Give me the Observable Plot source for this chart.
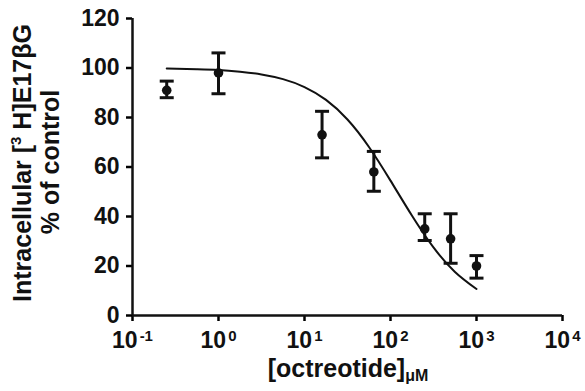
<!DOCTYPE html>
<html>
<head>
<meta charset="utf-8">
<script src="https://cdn.jsdelivr.net/npm/d3@7"></script>
<script src="https://cdn.jsdelivr.net/npm/@observablehq/plot@0.6"></script>
<style>
  html, body { margin: 0; padding: 0; background: #fff; }
  #chart svg { font-family: "Liberation Sans", Arial, sans-serif; }
</style>
</head>
<body>
<div id="chart"></div>
<script>
// Measured points (concentration in µM, % of control)
const conc   = [0.25, 1, 16, 64, 250, 500, 1000];
const mean   = [91, 98, 73, 58, 35, 31, 20];
const errLo  = [88, 89.6, 63.7, 50.2, 30.3, 21.1, 15.1];
const errHi  = [94.7, 106.1, 82.5, 66.3, 41.1, 41.1, 24.2];

// Fitted curve
const curveX = [0.25, 0.56, 1, 1.78, 3.16, 5.62, 10, 17.8, 31.6, 56.2, 100, 178, 316, 562, 1000];
const curveY = [99.8, 99.5, 99.2, 98.5, 97.4, 95.5, 92.3, 87.1, 79.2, 68.1, 54.5, 40.3, 27.5, 17.6, 10.7];

// Axis ticks
const xTicks = [0.1, 1, 10, 100, 1000, 10000];
const yTicks = [0, 20, 40, 60, 80, 100, 120];

const points = conc.map((c, i) => ({x: c, y: mean[i], lo: errLo[i], hi: errHi[i]}));
const curve = curveX.map((c, i) => ({x: c, y: curveY[i]}));

const cap = {draw(ctx) { ctx.moveTo(-7, 0); ctx.lineTo(7, 0); }};

const plot = Plot.plot({
  width: 585,
  height: 391,
  marginLeft: 132,
  marginRight: 23,
  marginTop: 18,
  marginBottom: 76,
  x: {type: "log", domain: [0.1, 10000]},
  y: {domain: [0, 120]},
  marks: [
    Plot.axisY({ticks: yTicks, tickSize: 6, tickPadding: 7, strokeWidth: 2.5, fontSize: 23, fontWeight: "bold", fill: "#111", label: null}),
    Plot.axisX({ticks: xTicks, tickSize: 6, tickPadding: 10, strokeWidth: 2.5, fontSize: 23, fontWeight: "bold", fill: "#111", label: null,
      tickFormat: d => String(Math.round(Math.log10(d)))}),
    Plot.ruleX([0.1], {y1: 0, y2: 120, stroke: "#111", strokeWidth: 2.5}),
    Plot.ruleY([0], {stroke: "#111", strokeWidth: 2.5}),
    Plot.line(curve, {x: "x", y: "y", curve: "natural", stroke: "#111", strokeWidth: 2}),
    Plot.ruleX(points, {x: "x", y1: "lo", y2: "hi", stroke: "#111", strokeWidth: 3}),
    Plot.dot(points, {x: "x", y: "lo", symbol: cap, stroke: "#111", strokeWidth: 3, r: 5}),
    Plot.dot(points, {x: "x", y: "hi", symbol: cap, stroke: "#111", strokeWidth: 3, r: 5}),
    Plot.dot(points, {x: "x", y: "y", r: 4.8, fill: "#111", stroke: "none"})
  ]
});

document.getElementById("chart").appendChild(plot);

const svg = d3.select(plot);
// Superscript exponents on x tick labels
svg.selectAll('g[aria-label="x-axis tick label"] text').each(function() {
  const t = d3.select(this);
  const exp = t.text().replace("\u2212", "-");
  t.text("10");
  t.append("tspan").attr("dy", "-0.45em").attr("font-size", 15).attr("dx", 2).text(exp);
});

// Y axis title
const yt = svg.append("text")
  .attr("transform", "translate(31,163) rotate(-90)")
  .attr("text-anchor", "middle")
  .attr("font-size", 25).attr("font-weight", "bold").attr("fill", "#111");
yt.append("tspan").text("Intracellular [");
yt.append("tspan").attr("font-size", 15).attr("dy", -10).text("3");
yt.append("tspan").attr("dy", 10).text(" H]E17\u03B2G");
svg.append("text")
  .attr("transform", "translate(59,162) rotate(-90)")
  .attr("text-anchor", "middle")
  .attr("font-size", 25).attr("font-weight", "bold").attr("fill", "#111")
  .text("% of control");

// X axis title
const xt = svg.append("text")
  .attr("x", 348).attr("y", 377)
  .attr("text-anchor", "middle")
  .attr("font-size", 25).attr("font-weight", "bold").attr("fill", "#111");
xt.append("tspan").text("[octreotide]");
xt.append("tspan").attr("font-size", 16).attr("dy", 4).text("\u03BCM");
</script>
</body>
</html>
